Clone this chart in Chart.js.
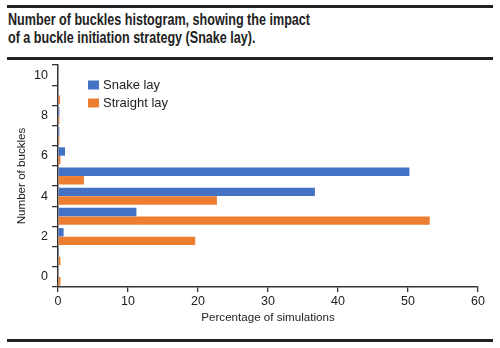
<!DOCTYPE html>
<html>
<head>
<meta charset="utf-8">
<script src="https://cdn.jsdelivr.net/npm/chart.js@4/dist/chart.umd.min.js"></script>
<style>
  body { margin: 0; background: #fff; width: 500px; height: 348px; position: relative; overflow: hidden; }
  #title {
    position: absolute; left: 7px; top: 5px; width: 486px; height: 55px;
    border-top: 3px solid #222; border-bottom: 3px solid #222;
    box-sizing: border-box; padding: 2px 0 0 1px;
  }
  #title span {
    display: block; width: max-content; white-space: nowrap; transform-origin: 0 50%;
    font-family: "Liberation Sans", Arial, sans-serif;
    font-weight: bold; font-size: 16.5px; line-height: 18px; color: #222;
  }
  #wrap { position: absolute; left: 0; top: 60px; width: 500px; height: 276px; }
  #rule { position: absolute; left: 7px; top: 339px; width: 486px; height: 3px; background: #222; }
</style>
</head>
<body>
<div id="title"><span>Number of buckles histogram, showing the impact</span><span>of a buckle initiation strategy (Snake lay).</span></div>
<div id="wrap"><canvas id="chart"></canvas></div>
<div id="rule"></div>
<script>
// number of buckles, 0..10 (drawn bottom to top)
const buckles = [0, 1, 2, 3, 4, 5, 6, 7, 8, 9, 10];
const snakeLay = [0, 0.15, 0.8, 11.2, 36.7, 50.2, 1.0, 0.2, 0.2, 0, 0];
const straightLay = [0.35, 0.35, 19.6, 53.1, 22.7, 3.7, 0.35, 0.2, 0.2, 0.3, 0];
const xTicks = [0, 10, 20, 30, 40, 50, 60];

// condensed look for the heading: squeeze the first line to the reference width
const lines = document.querySelectorAll('#title span');
const squeeze = 302 / lines[0].getBoundingClientRect().width;
lines.forEach(l => { l.style.transform = 'scaleX(' + squeeze + ')'; });

const axisColor = '#333';
const textColor = '#222';
Chart.defaults.font.family = '"Liberation Sans", Arial, sans-serif';
Chart.defaults.font.size = 12.5;
Chart.defaults.color = textColor;

// legend drawn inside the plot area
const innerLegend = {
  id: 'innerLegend',
  afterDraw(chart) {
    const ctx = chart.ctx;
    ctx.save();
    ctx.font = '13px "Liberation Sans", Arial, sans-serif';
    ctx.textBaseline = 'middle';
    chart.data.datasets.forEach((ds, i) => {
      const y = 25 + i * 18;
      ctx.fillStyle = ds.backgroundColor;
      ctx.fillRect(88, y - 4.5, 11, 9);
      ctx.fillStyle = textColor;
      ctx.fillText(ds.label, 103, y);
    });
    ctx.restore();
  }
};

new Chart(document.getElementById('chart'), {
  type: 'bar',
  data: {
    labels: buckles,
    datasets: [{
      label: 'Snake lay',
      data: snakeLay,
      backgroundColor: '#4472C4',
      categoryPercentage: 0.85,
      barPercentage: 0.98
    }, {
      label: 'Straight lay',
      data: straightLay,
      backgroundColor: '#ED7D31',
      categoryPercentage: 0.85,
      barPercentage: 0.98
    }]
  },
  options: {
    indexAxis: 'y',
    responsive: true,
    maintainAspectRatio: false,
    animation: false,
    layout: { padding: { top: 5, right: 22, left: 0, bottom: 0 } },
    plugins: { legend: { display: false }, tooltip: { enabled: false } },
    scales: {
      x: {
        min: 0, max: 60,
        afterBuildTicks: s => { s.ticks = xTicks.map(v => ({ value: v })); },
        afterFit: s => { s.height = 49; },
        grid: { drawOnChartArea: false, drawTicks: true, tickLength: 5, color: axisColor, lineWidth: 1.3 },
        border: { color: axisColor, width: 1.5 },
        ticks: { padding: 2, color: textColor },
        title: { display: true, text: 'Percentage of simulations', color: textColor, font: { size: 11.6 }, padding: { top: 0, bottom: 11 } }
      },
      y: {
        reverse: true,
        afterFit: s => { s.width = 58; s.paddingTop = 0; s.paddingBottom = 0; },
        grid: { drawOnChartArea: false, drawTicks: true, tickLength: 6, offset: true, color: axisColor, lineWidth: 1.3 },
        border: { color: axisColor, width: 1.5 },
        ticks: {
          padding: 4, color: textColor, autoSkip: false,
          callback: function (v) { const l = this.getLabelForValue(v); return l % 2 === 0 ? l : ''; }
        },
        title: { display: true, text: 'Number of buckles', color: textColor, font: { size: 11.6 }, padding: { top: 15, bottom: 0 } }
      }
    }
  },
  plugins: [innerLegend]
});
</script>
</body>
</html>
